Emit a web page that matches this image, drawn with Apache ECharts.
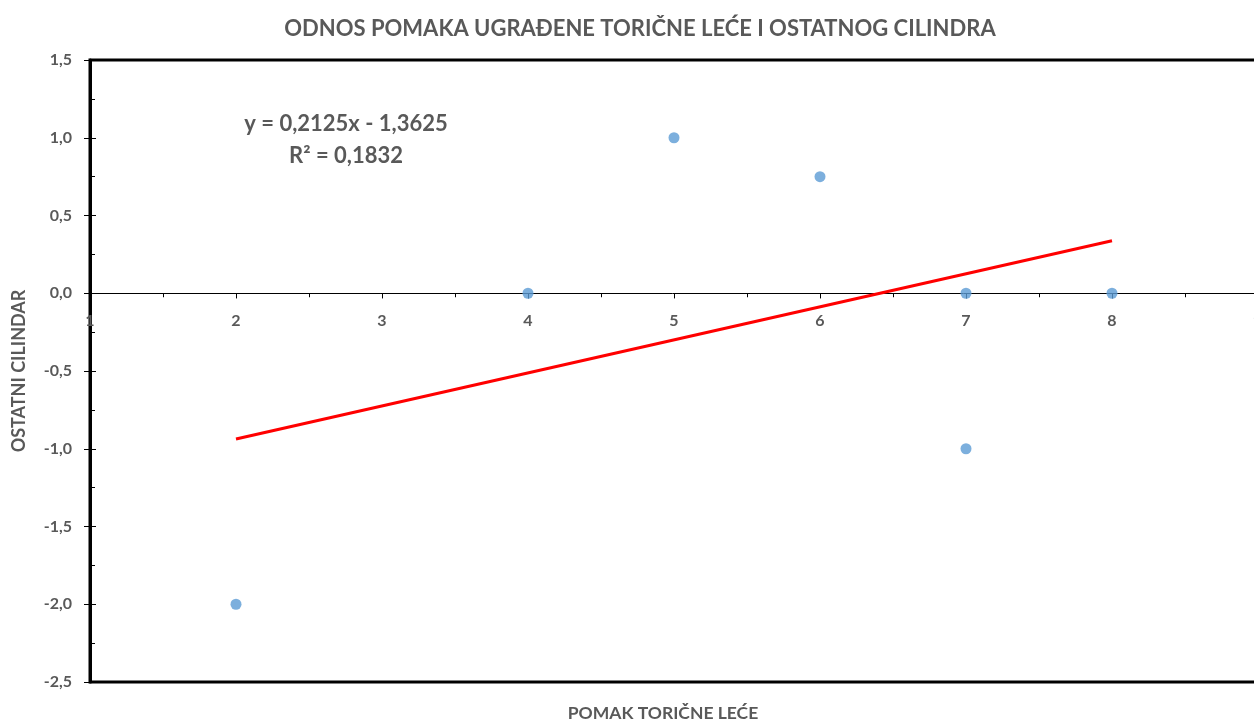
<!DOCTYPE html>
<html>
<head>
<meta charset="utf-8">
<script src="https://cdn.jsdelivr.net/npm/echarts@6/dist/echarts.min.js"></script>
<style>
  html, body { margin: 0; padding: 0; background: #fff; }
  #chart { width: 1254px; height: 721px; }
</style>
</head>
<body>
<div id="chart"></div>
<script>
// measured points (pomak, ostatni cilindar)
const pomak = [2, 4, 5, 6, 7, 7, 8];
const cilindar = [-2, 0, 1, 0.75, 0, -1, 0];
// linear trend shown on the chart
const slope = 0.2125;
const intercept = -1.3625;
const trendX = [2, 8];
const xTicks = { min: 1, max: 9, step: 1 };
const yTicks = { min: -2.5, max: 1.5, step: 0.5 };

const grey = '#595959';
const font = 'Lato, "Open Sans", sans-serif';

const points = pomak.map((x, i) => [x, cilindar[i]]);
const trend = trendX.map((x) => [x, slope * x + intercept]);
const comma = (v) => v.toFixed(1).replace('.', ',');

// the x axis sits on y = 0; plot is 60..682 px tall, so lift it by (0 - min) share
const plotTop = 60, plotBottom = 682;
const zeroLift = (plotBottom - plotTop) * (0 - yTicks.min) / (yTicks.max - yTicks.min);

const chart = echarts.init(document.getElementById('chart'));
chart.setOption({
  animation: false,
  title: [
    {
      text: 'ODNOS POMAKA UGRAĐENE TORIČNE LEĆE I OSTATNOG CILINDRA',
      left: 635, top: 13, textAlign: 'center',
      textStyle: { fontFamily: font, fontSize: 22, fontWeight: 'bold', color: grey }
    },
    {
      text: 'POMAK TORIČNE LEĆE',
      left: 658, top: 699, textAlign: 'center',
      textStyle: { fontFamily: font, fontSize: 17.5, fontWeight: 'bold', color: grey }
    },
    {
      text: 'y = 0,2125x - 1,3625\nR² = 0,1832',
      left: 341, top: 103, textAlign: 'center',
      textStyle: { fontFamily: font, fontSize: 22, fontWeight: 'bold', color: grey, lineHeight: 32 }
    }
  ],
  grid: {
    left: 90, top: plotTop, right: -4, bottom: 721 - plotBottom,
    outerBoundsMode: 'none', containLabel: false,
    show: true, borderColor: '#000', borderWidth: 3, backgroundColor: 'transparent'
  },
  xAxis: [
    {
      type: 'value', min: xTicks.min, max: xTicks.max, interval: xTicks.step,
      offset: -zeroLift,
      axisLine: { onZero: false, lineStyle: { color: '#000', width: 1 } },
      axisTick: { show: true, length: 5, lineStyle: { color: '#000' } },
      axisLabel: { margin: 20, color: grey, fontFamily: font, fontWeight: 'bold', fontSize: 16 },
      splitLine: { show: false }
    },
    {
      type: 'value', min: xTicks.min, max: xTicks.max, interval: xTicks.step,
      axisLine: { show: false, onZero: true },
      axisTick: { show: true, inside: true, length: 5, lineStyle: { color: '#000' } },
      minorTick: { show: true, splitNumber: 2, length: 4, lineStyle: { color: '#000' } },
      axisLabel: { show: false },
      splitLine: { show: false }
    }
  ],
  yAxis: [
    {
      type: 'value', min: yTicks.min, max: yTicks.max, interval: yTicks.step,
      name: 'OSTATNI CILINDAR', nameLocation: 'middle', nameGap: 62, nameRotate: 90,
      nameTextStyle: { fontFamily: font, fontSize: 18, fontWeight: 'bold', color: grey },
      axisLine: { onZero: false, lineStyle: { color: '#000', width: 3 } },
      axisTick: { show: true, length: 6, lineStyle: { color: '#000' } },
      axisLabel: { margin: 18, color: grey, fontFamily: font, fontWeight: 'bold', fontSize: 16, formatter: comma },
      splitLine: { show: false }
    },
    {
      type: 'value', min: yTicks.min, max: yTicks.max, interval: yTicks.step, position: 'left',
      axisLine: { show: false, onZero: false },
      axisTick: { show: true, inside: true, length: 6, lineStyle: { color: '#000' } },
      minorTick: { show: true, splitNumber: 2, length: 5, lineStyle: { color: '#000' } },
      axisLabel: { show: false },
      splitLine: { show: false }
    }
  ],
  series: [
    {
      type: 'line', data: trend, symbol: 'none',
      lineStyle: { color: '#ff0000', width: 3 }, z: 3
    },
    {
      type: 'scatter', data: points, symbol: 'circle', symbolSize: 11,
      itemStyle: { color: '#5B9BD5' }, z: 4
    }
  ]
});
</script>
</body>
</html>
